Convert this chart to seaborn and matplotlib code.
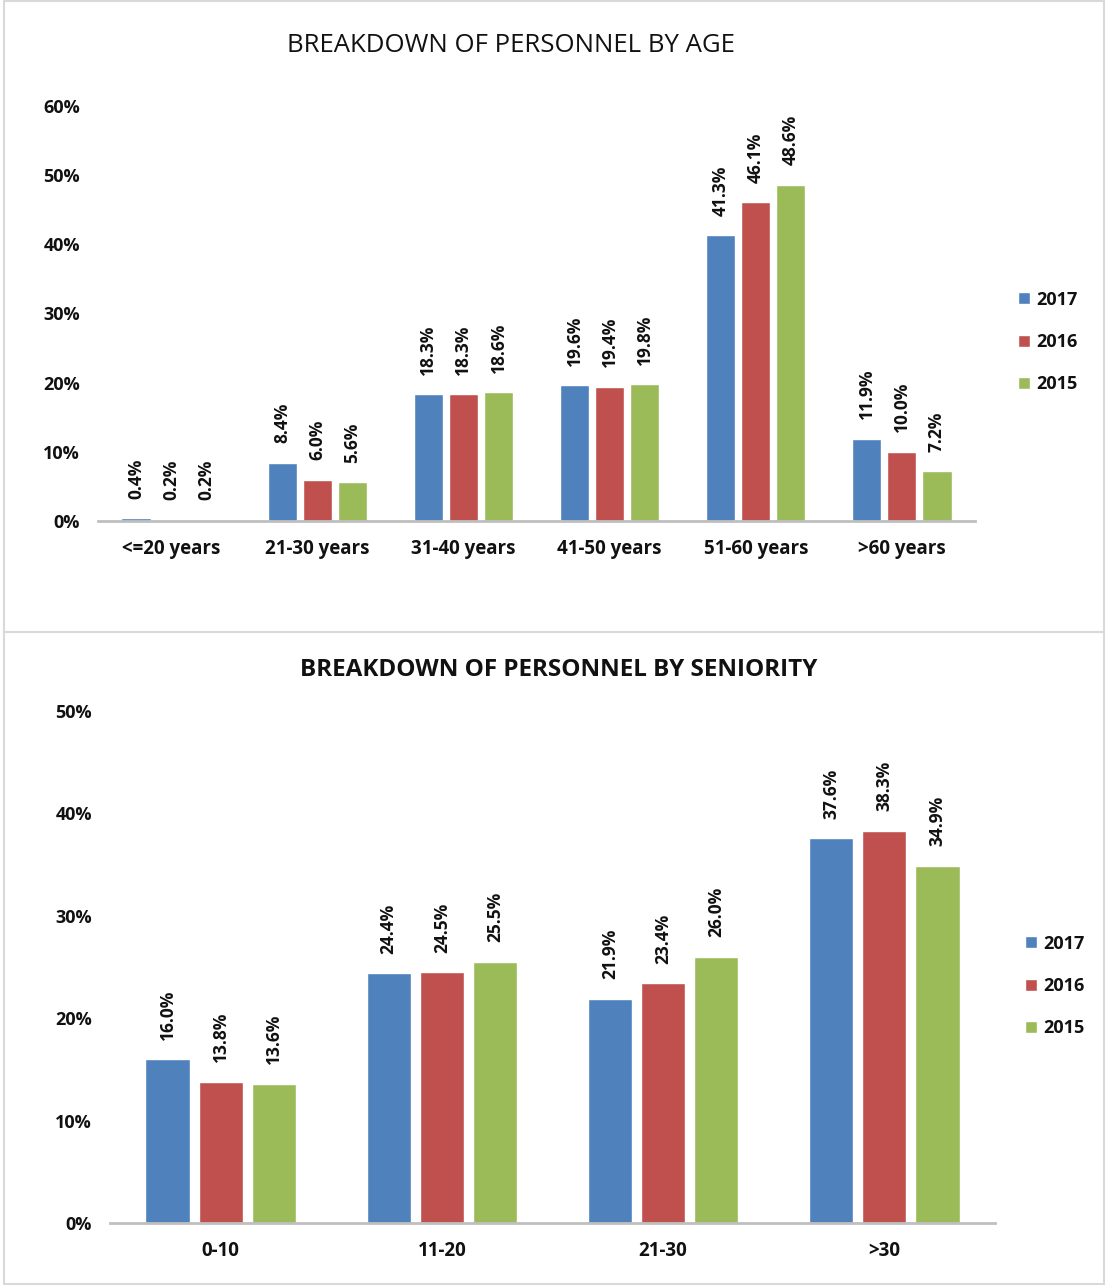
import numpy as np
import pandas as pd
import matplotlib
matplotlib.use("Agg")
import matplotlib.pyplot as plt
from matplotlib.patches import Rectangle
import seaborn as sns

# data
years = ["2017", "2016", "2015"]
age_groups = ["<=20 years", "21-30 years", "31-40 years", "41-50 years", "51-60 years", ">60 years"]
age_2017 = [0.4, 8.4, 18.3, 19.6, 41.3, 11.9]
age_2016 = [0.2, 6.0, 18.3, 19.4, 46.1, 10.0]
age_2015 = [0.2, 5.6, 18.6, 19.8, 48.6, 7.2]

seniority_groups = ["0-10", "11-20", "21-30", ">30"]
sen_2017 = [16.0, 24.4, 21.9, 37.6]
sen_2016 = [13.8, 24.5, 23.4, 38.3]
sen_2015 = [13.6, 25.5, 26.0, 34.9]

colors = ["#4F81BD", "#C0504D", "#9BBB59"]


def long_df(groups, series):
    rows = []
    for yr, vals in zip(years, series):
        for g, v in zip(groups, vals):
            rows.append({"group": g, "year": yr, "value": v})
    return pd.DataFrame(rows)


sns.set_theme(style="white")
plt.rcParams["font.family"] = ["Open Sans", "DejaVu Sans"]

fig = plt.figure(figsize=(11.07, 12.86), dpi=100)
W, H = 1107, 1286


def px_axes(x0, y0, x1, y1):
    # pixel box (top-left origin) -> figure axes
    return fig.add_axes([x0 / W, 1 - y1 / H, (x1 - x0) / W, (y1 - y0) / H])


def draw_panel(ax, groups, series, ymax, title, title_weight, title_size,
               title_xy, legend_xy):
    df = long_df(groups, series)
    sns.barplot(data=df, x="group", y="value", hue="year", order=groups,
                hue_order=years, palette=colors, width=0.72, gap=0.17,
                saturation=1, ax=ax, legend=True)
    for c in ax.containers:
        ax.bar_label(c, labels=[f"{v:.1f}%" for v in c.datavalues], rotation=90,
                     padding=14, fontsize=12.5, fontweight="bold", color="#111111")
    ax.set_ylim(0, ymax)
    ticks = np.arange(0, ymax + 1, 10)
    ax.set_yticks(ticks)
    ax.set_yticklabels([f"{int(t)}%" for t in ticks])
    ax.set_xlabel("")
    ax.set_ylabel("")
    ax.tick_params(axis="y", length=0, pad=13, labelsize=13)
    ax.tick_params(axis="x", length=0, pad=13, labelsize=13.5)
    for lab in ax.get_xticklabels() + ax.get_yticklabels():
        lab.set_fontweight("bold")
        lab.set_color("#111111")
    for s in ["top", "right", "left"]:
        ax.spines[s].set_visible(False)
    ax.spines["bottom"].set_color("#BFBFBF")
    ax.spines["bottom"].set_linewidth(2)
    handles, labels = ax.get_legend_handles_labels()
    ax.legend_.remove()
    leg = fig.legend(handles, labels, loc="center left",
                     bbox_to_anchor=(legend_xy[0] / W, 1 - legend_xy[1] / H),
                     frameon=False, handlelength=0.65, handleheight=0.65,
                     handletextpad=0.35, labelspacing=1.35, fontsize=13,
                     borderpad=0, borderaxespad=0)
    for t in leg.get_texts():
        t.set_fontweight("bold")
        t.set_color("#111111")
    fig.text(title_xy[0] / W, 1 - title_xy[1] / H, title, ha="center", va="center",
             fontsize=title_size, fontweight=title_weight, color="#111111")


ax1 = px_axes(98, 106, 975, 521)
draw_panel(ax1, age_groups, [age_2017, age_2016, age_2015], 60,
           "BREAKDOWN OF PERSONNEL BY AGE", "normal", 18.5, (511, 45), (1018, 342))

ax2 = px_axes(110, 711, 995, 1223)
draw_panel(ax2, seniority_groups, [sen_2017, sen_2016, sen_2015], 50,
           "BREAKDOWN OF PERSONNEL BY SENIORITY", "bold", 17.5, (559, 670), (1025, 986))

# panel borders
for y0, y1 in [(1, 632), (632, 1284)]:
    fig.add_artist(Rectangle((4 / W, 1 - y1 / H), (1104 - 4) / W, (y1 - y0) / H,
                             transform=fig.transFigure, fill=False,
                             edgecolor="#D9D9D9", linewidth=1.5))

fig.savefig("out.png", dpi=100)
